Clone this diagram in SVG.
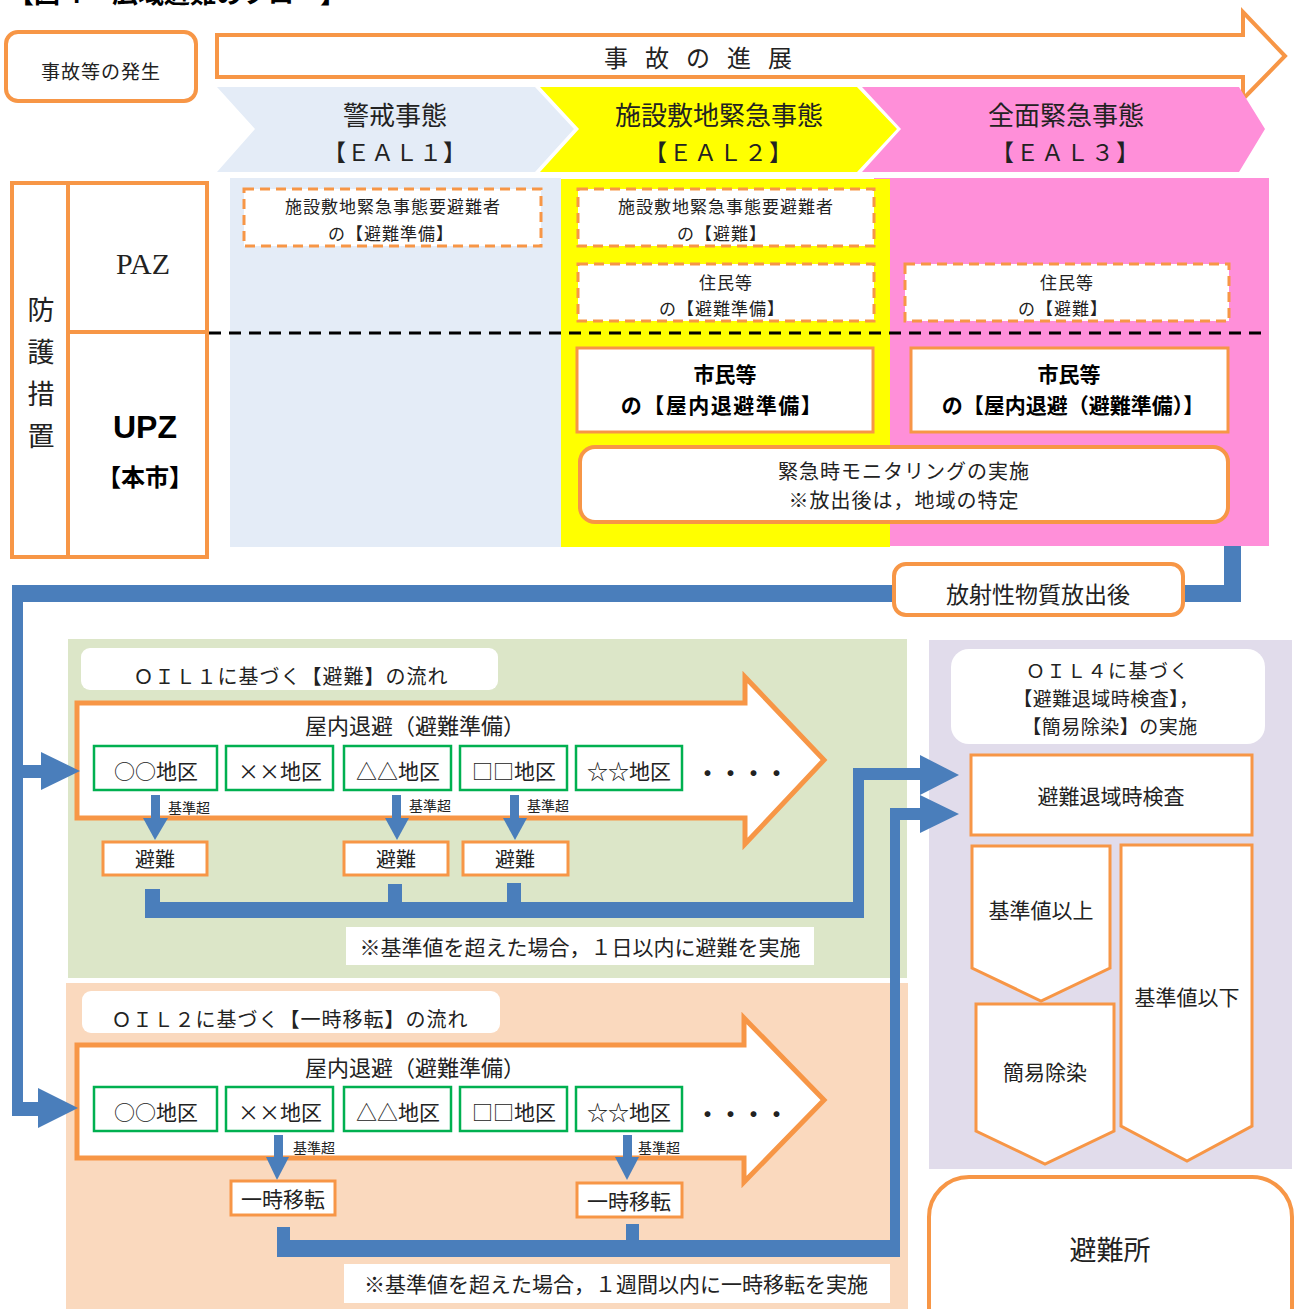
<svg xmlns="http://www.w3.org/2000/svg" width="1301" height="1309" viewBox="0 0 1301 1309">
<style>
.t{font-family:"Noto Sans CJK JP","Noto Sans CJK SC",sans-serif;fill:#222;text-anchor:middle;dominant-baseline:central}
.b{font-weight:bold;fill:#000}
.o{fill:#fff;stroke:#F79646;stroke-width:3}
.o4{fill:#fff;stroke:#F79646;stroke-width:4}
.od{fill:#fff;stroke:#F79646;stroke-width:3;stroke-dasharray:10 6}
.g{fill:#fff;stroke:#00B050;stroke-width:2.5}
.bl{fill:#4A7EBB}
.lab{fill:#fff}
</style>

<!-- title (cut at top) -->
<text x="8" y="3" font-family="Noto Sans CJK JP, sans-serif" font-weight="bold" font-size="26" fill="#000">【図４　広域避難のフロー】</text>

<!-- backgrounds -->
<g id="backgrounds">
  <rect x="230" y="178" width="331" height="369" fill="#E4ECF7"/>
  <rect x="874" y="178" width="395" height="368" fill="#FF8FD9"/>
  <rect x="561" y="179" width="329" height="368" fill="#FFFF00"/>
  <rect x="890" y="178" width="379" height="368" fill="#FF8FD9"/>
  <rect x="68" y="639" width="839" height="339" fill="#DCE6C8"/>
  <rect x="66" y="983" width="842" height="326" fill="#FAD9BE"/>
  <rect x="929" y="640" width="363" height="529" fill="#E1DCEB"/>
</g>

<g id="accident">
  <rect x="6" y="32" width="190" height="69" rx="12" class="o4"/>
  <text x="101" y="70" class="t" font-size="19" letter-spacing="1">事故等の発生</text>
</g>

<g id="progress-arrow">
  <polygon points="217,35 1243,35 1243,12 1285,56 1243,99 1243,77 217,77" class="o4"/>
  <text x="604" y="56" class="t" font-size="24" letter-spacing="17" style="text-anchor:start">事故の進展</text>
</g>

<g id="eal1">
  <polygon points="217,87 535,87 574,129 535,172 217,172 255,129" fill="#E4ECF7"/>
  <text x="395" y="113" class="t" font-size="26">警戒事態</text>
  <text x="395" y="151" class="t" font-size="23" letter-spacing="1">【ＥＡＬ１】</text>
</g>
<g id="eal2">
  <polygon points="540,87 857,87 897,129 857,172 540,172 579,129" fill="#FFFF00"/>
  <text x="719" y="113" class="t" font-size="26">施設敷地緊急事態</text>
  <text x="719" y="151" class="t" font-size="23" letter-spacing="2">【ＥＡＬ２】</text>
</g>
<g id="eal3">
  <polygon points="862,87 1239,87 1265,129 1239,172 862,172 901,129" fill="#FF8FD9"/>
  <text x="1066" y="113" class="t" font-size="26">全面緊急事態</text>
  <text x="1066" y="151" class="t" font-size="23" letter-spacing="2">【ＥＡＬ３】</text>
</g>

<g id="protect-table">
  <rect x="12" y="183" width="195" height="374" fill="#fff" stroke="#F79646" stroke-width="4"/>
  <line x1="68" y1="183" x2="68" y2="557" stroke="#F79646" stroke-width="4"/>
  <line x1="68" y1="332" x2="207" y2="332" stroke="#F79646" stroke-width="4"/>
  <text x="41" y="308" class="t" font-size="27">防</text>
  <text x="41" y="350" class="t" font-size="27">護</text>
  <text x="41" y="392" class="t" font-size="27">措</text>
  <text x="41" y="434" class="t" font-size="27">置</text>
  <text x="143" y="263" class="t" style="font-family:'Liberation Serif',serif" font-size="30">PAZ</text>
  <text x="145" y="427" class="t b" style="font-family:'Liberation Sans',sans-serif" font-size="32">UPZ</text>
  <text x="145" y="475" class="t b" font-size="24">【本市】</text>
</g>

<line x1="209" y1="333" x2="1262" y2="333" stroke="#000" stroke-width="3" stroke-dasharray="12 8"/>

<g id="paz-eal1">
  <rect x="244" y="189" width="297" height="57" class="od"/>
  <text x="393" y="205" class="t" font-size="17" letter-spacing="1">施設敷地緊急事態要避難者</text>
  <text x="391" y="232" class="t" font-size="17" letter-spacing="1">の【避難準備】</text>
</g>
<g id="paz-eal2-a">
  <rect x="578" y="189" width="296" height="57" class="od"/>
  <text x="726" y="205" class="t" font-size="17" letter-spacing="1">施設敷地緊急事態要避難者</text>
  <text x="722" y="232" class="t" font-size="17" letter-spacing="1">の【避難】</text>
</g>
<g id="paz-eal2-b">
  <rect x="578" y="264" width="296" height="57" class="od"/>
  <text x="726" y="281" class="t" font-size="17" letter-spacing="1">住民等</text>
  <text x="722" y="307" class="t" font-size="17" letter-spacing="1">の【避難準備】</text>
</g>
<g id="paz-eal3">
  <rect x="905" y="264" width="324" height="57" class="od"/>
  <text x="1067" y="281" class="t" font-size="17" letter-spacing="1">住民等</text>
  <text x="1063" y="307" class="t" font-size="17" letter-spacing="1">の【避難】</text>
</g>

<g id="upz-eal2">
  <rect x="577" y="348" width="296" height="84" class="o"/>
  <text x="725" y="373" class="t b" font-size="21">市民等</text>
  <text x="722" y="404" class="t b" font-size="21" letter-spacing="1.5">の【屋内退避準備】</text>
</g>
<g id="upz-eal3">
  <rect x="911" y="348" width="317" height="84" class="o"/>
  <text x="1069" y="373" class="t b" font-size="21">市民等</text>
  <text x="1073" y="404" class="t b" font-size="21">の【屋内退避（避難準備）】</text>
</g>
<g id="monitoring">
  <rect x="580" y="447" width="648" height="75" rx="15" class="o4"/>
  <text x="904" y="470" class="t" font-size="20" letter-spacing="1">緊急時モニタリングの実施</text>
  <text x="904" y="499" class="t" font-size="20" letter-spacing="1">※放出後は，地域の特定</text>
</g>

<!-- big orange arrows (drawn under connectors) -->
<g id="oil1-arrow">
  <polygon points="77,703 745,703 745,677 824,760 745,844 745,818 77,818" fill="#fff" stroke="#F79646" stroke-width="5"/>
  <text x="415" y="724" class="t" font-size="22">屋内退避（避難準備）</text>
</g>
<g id="oil2-arrow">
  <polygon points="77,1045 744,1045 744,1018 824,1100 744,1182 744,1158 77,1158" fill="#fff" stroke="#F79646" stroke-width="5"/>
  <text x="415" y="1066" class="t" font-size="22">屋内退避（避難準備）</text>
</g>

<g id="connectors">
  <!-- release line -->
  <rect x="1224" y="546" width="17" height="56" class="bl"/>
  <rect x="12" y="585" width="1229" height="17" class="bl"/>
  <rect x="12" y="585" width="11" height="531" class="bl"/>
  <rect x="22" y="765" width="20" height="13" class="bl"/>
  <polygon points="41,752 80,771 41,790" class="bl"/>
  <rect x="12" y="1102" width="27" height="14" class="bl"/>
  <polygon points="38,1088 78,1108 38,1128" class="bl"/>
  <!-- OIL1 small arrows -->
  <rect x="151" y="795" width="9" height="25" class="bl"/>
  <polygon points="143,818 168,818 155,840" class="bl"/>
  <rect x="392" y="795" width="9" height="25" class="bl"/>
  <polygon points="385,818 409,818 397,840" class="bl"/>
  <rect x="510" y="795" width="9" height="25" class="bl"/>
  <polygon points="503,818 527,818 515,840" class="bl"/>
  <!-- OIL1 collector -->
  <rect x="145" y="889" width="15" height="29" class="bl"/>
  <rect x="388" y="884" width="14" height="34" class="bl"/>
  <rect x="507" y="883" width="14" height="35" class="bl"/>
  <rect x="145" y="902" width="719" height="16" class="bl"/>
  <rect x="853" y="768" width="11" height="150" class="bl"/>
  <rect x="853" y="768" width="68" height="12" class="bl"/>
  <polygon points="920,755 959,775 920,795" class="bl"/>
  <!-- OIL2 small arrows -->
  <rect x="274" y="1135" width="9" height="24" class="bl"/>
  <polygon points="266,1157 289,1157 277,1180" class="bl"/>
  <rect x="623" y="1135" width="9" height="24" class="bl"/>
  <polygon points="615,1157 639,1157 627,1180" class="bl"/>
  <!-- OIL2 collector -->
  <rect x="277" y="1227" width="13" height="30" class="bl"/>
  <rect x="626" y="1224" width="13" height="33" class="bl"/>
  <rect x="277" y="1240" width="623" height="17" class="bl"/>
  <rect x="890" y="808" width="10" height="449" class="bl"/>
  <rect x="890" y="808" width="31" height="12" class="bl"/>
  <polygon points="920,795 959,814 920,833" class="bl"/>
</g>

<g id="release">
  <rect x="894" y="564" width="289" height="51" rx="12" class="o4"/>
  <text x="1038" y="593" class="t" font-size="23">放射性物質放出後</text>
</g>

<!-- OIL1 -->
<g id="oil1-label">
  <rect x="81" y="648" width="417" height="42" rx="9" class="lab"/>
  <text x="291" y="675" class="t" font-size="20" letter-spacing="1">ＯＩＬ１に基づく【避難】の流れ</text>
</g>
<g id="oil1-a1"><rect x="94" y="746" width="123" height="44" class="g"/><text x="156" y="770" class="t" font-size="21">○○地区</text></g>
<g id="oil1-a2"><rect x="226" y="746" width="107" height="44" class="g"/><text x="280" y="770" class="t" font-size="21">××地区</text></g>
<g id="oil1-a3"><rect x="344" y="746" width="107" height="44" class="g"/><text x="398" y="770" class="t" font-size="21">△△地区</text></g>
<g id="oil1-a4"><rect x="460" y="746" width="107" height="44" class="g"/><text x="514" y="770" class="t" font-size="21">□□地区</text></g>
<g id="oil1-a5"><rect x="576" y="746" width="106" height="44" class="g"/><text x="629" y="770" class="t" font-size="21">☆☆地区</text></g>
<text x="742" y="772" class="t" font-size="23" font-weight="bold">・・・・</text>
<text x="189" y="807" class="t" font-size="14">基準超</text>
<text x="430" y="805" class="t" font-size="14">基準超</text>
<text x="548" y="805" class="t" font-size="14">基準超</text>
<g id="oil1-e1"><rect x="103" y="842" width="104" height="33" class="o"/><text x="155" y="858" class="t" font-size="20">避難</text></g>
<g id="oil1-e2"><rect x="344" y="842" width="104" height="33" class="o"/><text x="396" y="858" class="t" font-size="20">避難</text></g>
<g id="oil1-e3"><rect x="463" y="842" width="105" height="33" class="o"/><text x="515" y="858" class="t" font-size="20">避難</text></g>
<g id="oil1-note">
  <rect x="346" y="927" width="468" height="38" class="lab"/>
  <text x="580" y="946" class="t" font-size="21">※基準値を超えた場合，１日以内に避難を実施</text>
</g>

<!-- OIL2 -->
<g id="oil2-label">
  <rect x="82" y="991" width="418" height="42" rx="9" class="lab"/>
  <text x="290" y="1018" class="t" font-size="20" letter-spacing="1">ＯＩＬ２に基づく【一時移転】の流れ</text>
</g>
<g id="oil2-a1"><rect x="94" y="1087" width="123" height="44" class="g"/><text x="156" y="1111" class="t" font-size="21">○○地区</text></g>
<g id="oil2-a2"><rect x="226" y="1087" width="107" height="44" class="g"/><text x="280" y="1111" class="t" font-size="21">××地区</text></g>
<g id="oil2-a3"><rect x="344" y="1087" width="107" height="44" class="g"/><text x="398" y="1111" class="t" font-size="21">△△地区</text></g>
<g id="oil2-a4"><rect x="460" y="1087" width="107" height="44" class="g"/><text x="514" y="1111" class="t" font-size="21">□□地区</text></g>
<g id="oil2-a5"><rect x="576" y="1087" width="106" height="44" class="g"/><text x="629" y="1111" class="t" font-size="21">☆☆地区</text></g>
<text x="742" y="1113" class="t" font-size="23" font-weight="bold">・・・・</text>
<text x="314" y="1147" class="t" font-size="14">基準超</text>
<text x="659" y="1147" class="t" font-size="14">基準超</text>
<g id="oil2-r1"><rect x="231" y="1181" width="104" height="34" class="o"/><text x="283" y="1198" class="t" font-size="21">一時移転</text></g>
<g id="oil2-r2"><rect x="577" y="1183" width="105" height="34" class="o"/><text x="629" y="1200" class="t" font-size="21">一時移転</text></g>
<g id="oil2-note">
  <rect x="344" y="1264" width="546" height="39" class="lab"/>
  <text x="616" y="1283" class="t" font-size="21">※基準値を超えた場合，１週間以内に一時移転を実施</text>
</g>

<!-- OIL4 -->
<g id="oil4-label">
  <rect x="951" y="649" width="314" height="95" rx="18" class="lab"/>
  <text x="1108" y="669" class="t" font-size="19" letter-spacing="1.5">ＯＩＬ４に基づく</text>
  <text x="1106" y="697" class="t" font-size="19" letter-spacing="0.5">【避難退域時検査】，</text>
  <text x="1110" y="725" class="t" font-size="19" letter-spacing="0.5">【簡易除染】の実施</text>
</g>
<g id="screening">
  <rect x="971" y="755" width="281" height="80" class="o"/>
  <text x="1111" y="795" class="t" font-size="21">避難退域時検査</text>
</g>
<g id="above">
  <polygon points="972,846 1110,846 1110,968 1041,1001 972,968" class="o"/>
  <text x="1041" y="909" class="t" font-size="21">基準値以上</text>
</g>
<g id="decon">
  <polygon points="976,1004 1114,1004 1114,1131 1045,1164 976,1131" class="o"/>
  <text x="1045" y="1071" class="t" font-size="21">簡易除染</text>
</g>
<g id="below">
  <polygon points="1121,845 1252,845 1252,1126 1187,1161 1121,1126" class="o"/>
  <text x="1187" y="996" class="t" font-size="21">基準値以下</text>
</g>
<g id="shelter">
  <rect x="929" y="1177" width="363" height="170" rx="40" class="o4"/>
  <text x="1110" y="1248" class="t" font-size="27">避難所</text>
</g>
</svg>
